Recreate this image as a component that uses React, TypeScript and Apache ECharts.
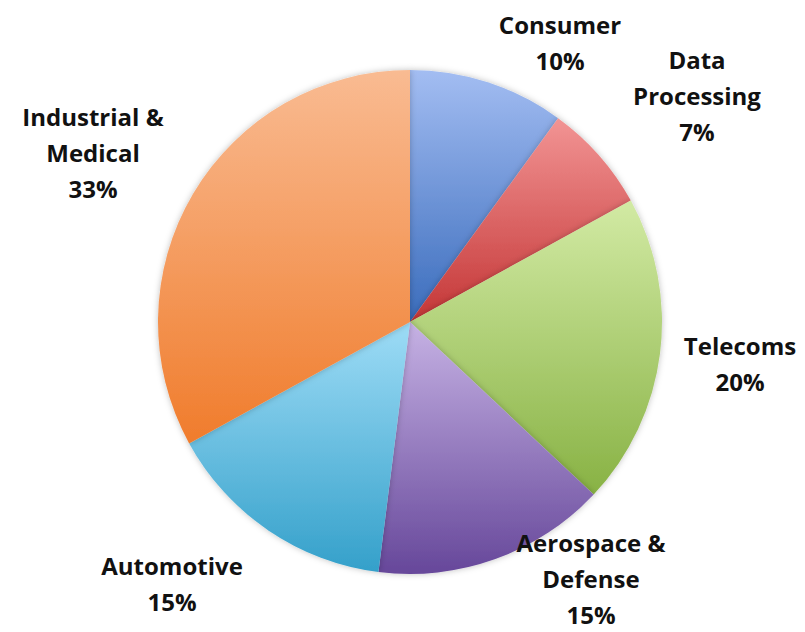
import React, { useEffect, useRef } from "react";
import * as echarts from "echarts";

const categories = [
  "Consumer",
  "Data\nProcessing",
  "Telecoms",
  "Aerospace &\nDefense",
  "Automotive",
  "Industrial &\nMedical",
];
const shares = [10, 7, 20, 15, 15, 33];

const topColors = ["#a3bdf2", "#f29494", "#d2eaa4", "#c6b2e4", "#9edcf6", "#f9bb92"];
const bottomColors = ["#3a6cbc", "#c43636", "#88b244", "#66479a", "#34a0ca", "#f07c2c"];

const labelCenters: [number, number][] = [
  [560, 42],
  [697, 95],
  [740, 363],
  [591, 578],
  [172, 583],
  [93, 152],
];

export default function App() {
  const ref = useRef<HTMLDivElement>(null);
  useEffect(() => {
    if (!ref.current) return;
    const chart = echarts.init(ref.current, null, { renderer: "svg" });
    const data = categories.map((name, i) => ({
      name,
      value: shares[i],
      itemStyle: {
        color: new echarts.graphic.LinearGradient(0, 0, 0, 1, [
          { offset: 0, color: topColors[i] },
          { offset: 1, color: bottomColors[i] },
        ]),
      },
    }));
    chart.setOption({
      animation: false,
      backgroundColor: "#ffffff",
      series: [
        {
          type: "pie",
          center: [410, 322],
          radius: 252,
          startAngle: 90,
          clockwise: true,
          avoidLabelOverlap: false,
          data,
          itemStyle: {
            borderWidth: 0,
            shadowBlur: 6,
            shadowColor: "rgba(0,0,0,0.25)",
          },
          label: {
            show: true,
            position: "outside",
            formatter: "{b}\n{c}%",
            fontFamily: "Open Sans",
            fontWeight: "bold",
            fontSize: 24,
            lineHeight: 36,
            color: "#111111",
            align: "center",
          },
          labelLine: { show: false },
          labelLayout: (params: any) => {
            const p = labelCenters[params.dataIndex];
            return { x: p[0], y: p[1], align: "center", verticalAlign: "middle" };
          },
          emphasis: { disabled: true },
        },
      ],
    });
    return () => chart.dispose();
  }, []);
  return (
    <div
      ref={ref}
      style={{ position: "fixed", left: 0, top: 0, width: 805, height: 632 }}
    />
  );
}
